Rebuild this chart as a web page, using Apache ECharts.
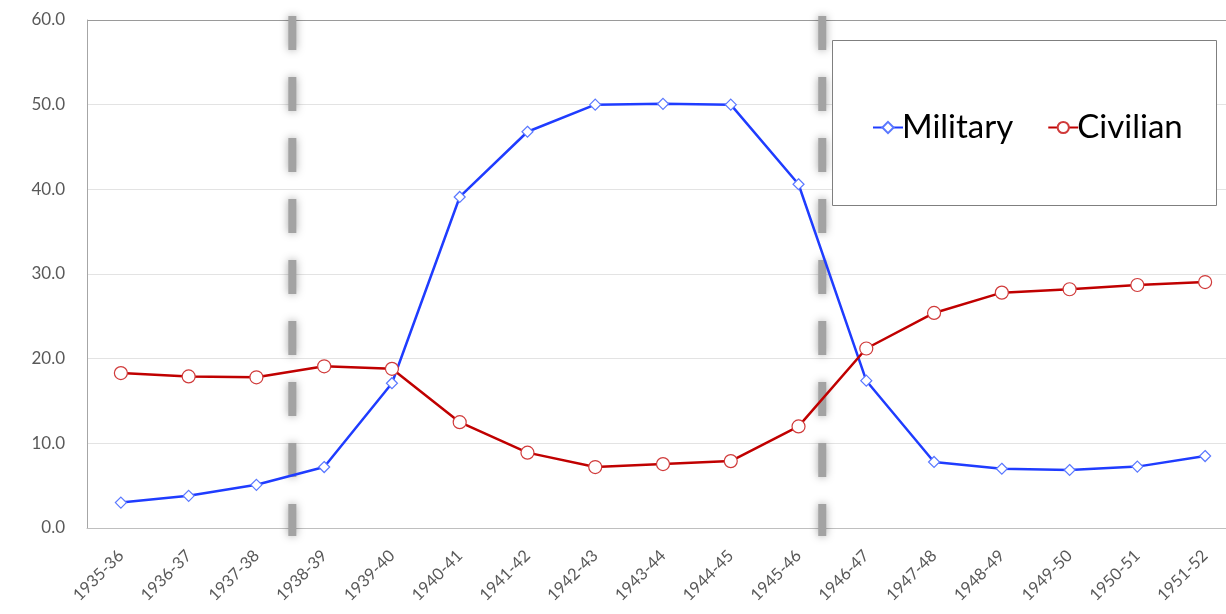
<!DOCTYPE html>
<html>
<head>
<meta charset="utf-8">
<script src="https://cdn.jsdelivr.net/npm/echarts@6/dist/echarts.min.js"></script>
<style>
  html, body { margin: 0; padding: 0; background: #fff; }
  #chart { width: 1226px; height: 614px; }
</style>
</head>
<body>
<div id="chart"></div>
<script>
// Fiscal years
const years = ['1935-36','1936-37','1937-38','1938-39','1939-40','1940-41','1941-42','1942-43','1943-44',
  '1944-45','1945-46','1946-47','1947-48','1948-49','1949-50','1950-51','1951-52'];

// Shares by sector
const military = [3.0, 3.8, 5.1, 7.2, 17.1, 39.1, 46.8, 50.0, 50.1, 50.0, 40.6, 17.4, 7.8, 7.0, 6.85, 7.25, 8.5];
const civilian = [18.3, 17.9, 17.8, 19.1, 18.8, 12.5, 8.9, 7.2, 7.55, 7.9, 12.0, 21.2, 25.4, 27.8, 28.2, 28.7, 29.05];

// Period dividers (position along the year axis, in category units)
const dividers = [2.53, 10.35];

const yTicks = [0, 10, 20, 30, 40, 50, 60];

const FONT = 'Lato, "DejaVu Sans", sans-serif';
const chart = echarts.init(document.getElementById('chart'));

const dividerSeries = dividers.map(d => ({
  type: 'line',
  xAxisIndex: 1,
  data: [[d, 60.47], [d, -0.94]],
  symbol: 'none',
  clip: false,
  silent: true,
  z: 1,
  lineStyle: {
    color: '#a3a3a3',
    width: 8,
    type: [34, 27],
    cap: 'butt',
    shadowColor: 'rgba(0,0,0,0.35)',
    shadowBlur: 9
  }
}));

chart.setOption({
  animation: false,
  backgroundColor: '#fff',
  grid: {
    left: 87, top: 20, width: 1152, height: 508,
    outerBoundsMode: 'none',
    containLabel: false,
    show: false
  },
  xAxis: [{
    type: 'category',
    data: years,
    boundaryGap: true,
    axisLine: { show: true, onZero: false, lineStyle: { color: '#bfbfbf' } },
    axisTick: { show: false },
    axisLabel: { rotate: 45, fontSize: 16.5, color: '#595959', fontFamily: FONT, margin: 25 },
    splitLine: { show: false }
  }, {
    type: 'value',
    min: -0.5, max: 16.5,
    show: false,
    position: 'bottom'
  }],
  yAxis: {
    type: 'value',
    min: 0, max: 60, interval: 10,
    axisLine: { show: true, onZero: false, lineStyle: { color: '#a6a6a6' } },
    axisTick: { show: false },
    axisLabel: {
      fontSize: 17, color: '#595959', fontFamily: FONT, margin: 22,
      formatter: v => yTicks.includes(v) ? v.toFixed(1) : ''
    },
    // the top gridline doubles as the frame's upper edge
    splitLine: { lineStyle: { color: ['#bfbfbf', '#e3e3e3', '#e3e3e3', '#e3e3e3', '#e3e3e3', '#e3e3e3', '#9a9a9a'], width: 1 } }
  },
  legend: {
    left: 867, top: 106,
    itemWidth: 30, itemHeight: 14, itemGap: 34,
    textStyle: { fontSize: 33, color: '#000', fontFamily: FONT, padding: [0, 0, 0, -6] },
    data: ['Military', 'Civilian'],
    z: 20
  },
  graphic: [{
    type: 'rect',
    shape: { x: 832.5, y: 40.5, width: 384, height: 165 },
    style: { fill: '#fff', stroke: '#7f7f7f', lineWidth: 1 },
    z: 10
  }],
  series: [
    ...dividerSeries,
    {
      name: 'Military',
      type: 'line',
      data: military,
      symbol: 'diamond',
      symbolSize: 11,
      z: 3,
      lineStyle: { color: '#1f3cff', width: 2.5 },
      itemStyle: { color: '#fff', borderColor: '#5a78ff', borderWidth: 1.2 }
    },
    {
      name: 'Civilian',
      type: 'line',
      data: civilian,
      symbol: 'circle',
      symbolSize: 13,
      z: 3,
      lineStyle: { color: '#c00000', width: 2.5 },
      itemStyle: { color: '#fff', borderColor: '#d03a3a', borderWidth: 1.2 }
    }
  ]
});
</script>
</body>
</html>
